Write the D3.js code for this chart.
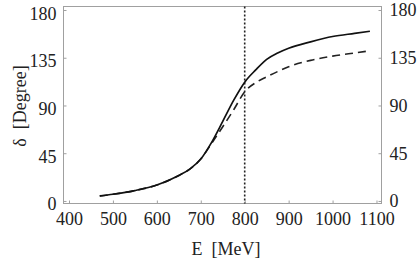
<!DOCTYPE html>
<html>
<head>
<meta charset="utf-8">
<script src="https://cdn.jsdelivr.net/npm/d3@7"></script>
<style>
body { margin: 0; background: #fff; }
</style>
</head>
<body>
<div id="chart"></div>
<script>
// energies (MeV) and phase shifts
var energy = [470, 500, 550, 600, 650, 675, 700, 725, 750, 775, 800, 825, 850, 875, 900, 950, 1000, 1050, 1085];
var solidPhase = [4.7, 6.3, 9.8, 15, 24, 30, 39.5, 55.5, 75, 95, 112, 123.5, 133.5, 139.5, 144, 150, 155, 158, 160];
var dashedPhase = [4.7, 6.3, 9.8, 15, 24, 30, 39.5, 54.5, 70, 86, 103, 111.5, 117, 122, 126.5, 132.5, 136.5, 139.5, 141.5];
var markerE = 800;
var xTicks = [400, 500, 600, 700, 800, 900, 1000, 1100];
var yTicks = [0, 45, 90, 135, 180];

var svgWidth = 418;
var svgHeight = 263;
var fontName = "'Liberation Serif'";

var frame = {left: 63.5, right: 381.5, top: 6.5, bottom: 203.5};

var svg = d3.select("#chart")
    .append("svg")
    .attr("width", svgWidth)
    .attr("height", svgHeight);

var x = d3.scaleLinear()
    .domain([387.5, 1111.4])
    .range([frame.left, frame.right]);

var y = d3.scaleLinear()
    .domain([-2.4, 183.3])
    .range([frame.bottom, frame.top]);

// box around the plot
svg.append("rect")
    .attr("x", frame.left)
    .attr("y", frame.top)
    .attr("width", frame.right - frame.left)
    .attr("height", frame.bottom - frame.top)
    .attr("fill", "none")
    .attr("stroke", "#a0a0a0")
    .attr("stroke-width", 1);

// axes with inward ticks, domain path hidden since the rect draws the frame
var bottomAxis = d3.axisBottom(x).tickValues(xTicks).tickFormat(d3.format("d"))
    .tickSizeInner(-3).tickSizeOuter(0).tickPadding(9);
var leftAxis = d3.axisLeft(y).tickValues(yTicks).tickFormat(d3.format("d"))
    .tickSizeInner(-3).tickSizeOuter(0).tickPadding(7);
var rightAxis = d3.axisRight(y).tickValues(yTicks).tickFormat(d3.format("d"))
    .tickSizeInner(-3).tickSizeOuter(0).tickPadding(8);

var gx = svg.append("g")
    .attr("transform", `translate(0,${frame.bottom})`)
    .call(bottomAxis);
var gl = svg.append("g")
    .attr("transform", `translate(${frame.left},0)`)
    .call(leftAxis);
var gr = svg.append("g")
    .attr("transform", `translate(${frame.right},0)`)
    .call(rightAxis);

[gx, gl, gr].forEach(function (g) {
    g.attr("font-family", "Liberation Serif").attr("font-size", 18);
    g.select(".domain").remove();
    g.selectAll(".tick line").attr("stroke", "#a0a0a0");
    g.selectAll(".tick text")
        .style("font-family", fontName)
        .style("font-size", "18px")
        .attr("fill", "#222");
});
// left labels sit a little lower than the ticks in the original
gl.selectAll(".tick text").attr("dy", "0.5em");
gr.selectAll(".tick text").attr("dy", "0.33em");

// vertical dotted line at 800 MeV
svg.append("line")
    .attr("x1", x(markerE))
    .attr("x2", x(markerE))
    .attr("y1", frame.top)
    .attr("y2", frame.bottom)
    .attr("stroke", "#222")
    .attr("stroke-width", 1.6)
    .attr("stroke-dasharray", "2,2");

var line = d3.line()
    .x(function (d) { return x(d[0]); })
    .y(function (d) { return y(d[1]); })
    .curve(d3.curveMonotoneX);

svg.append("path")
    .datum(energy.map(function (e, i) { return [e, dashedPhase[i]]; }))
    .attr("d", line)
    .attr("fill", "none")
    .attr("stroke", "#222")
    .attr("stroke-width", 1.6)
    .attr("stroke-dasharray", "8,5");

svg.append("path")
    .datum(energy.map(function (e, i) { return [e, solidPhase[i]]; }))
    .attr("d", line)
    .attr("fill", "none")
    .attr("stroke", "#111")
    .attr("stroke-width", 1.7);

// axis titles
svg.append("text")
    .attr("x", 226)
    .attr("y", 255)
    .attr("text-anchor", "middle")
    .attr("fill", "#222")
    .attr("font-family", "Liberation Serif")
    .style("font-family", fontName)
    .style("font-size", "18px")
    .style("white-space", "pre")
    .text("E  [MeV]");

svg.append("text")
    .attr("transform", "translate(26,106) rotate(-90)")
    .attr("text-anchor", "middle")
    .attr("fill", "#222")
    .attr("font-family", "Liberation Serif")
    .style("font-family", fontName)
    .style("font-size", "18px")
    .style("white-space", "pre")
    .text("δ  [Degree]");
</script>
</body>
</html>
